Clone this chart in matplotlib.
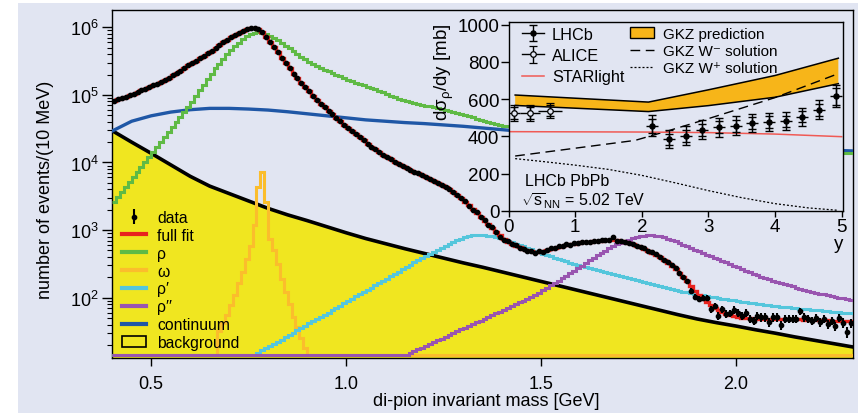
import numpy as np
import matplotlib
matplotlib.use("Agg")
import matplotlib.pyplot as plt
from matplotlib.patches import Rectangle, Patch
from matplotlib.lines import Line2D
from matplotlib.legend_handler import HandlerTuple
from matplotlib.ticker import LogLocator, NullFormatter, FixedLocator

plt.rcParams["font.family"] = ["Liberation Sans", "DejaVu Sans"]
plt.rcParams["mathtext.fontset"] = "custom"
plt.rcParams["mathtext.rm"] = "Liberation Sans"
plt.rcParams["mathtext.it"] = "Liberation Sans:italic"
plt.rcParams["mathtext.default"] = "regular"

# ---------------------------------------------------------------- main panel data
# 10 MeV bins from 0.40 to 2.30 GeV; all event counts are stored as log10(events per bin)
mass_lo, mass_hi, n_bins = 0.40, 2.30, 190

data_lg = [
    4.915, 4.935, 4.955, 4.975, 4.995, 5.015, 5.04, 5.065, 5.09, 5.115,
    5.14, 5.165, 5.19, 5.22, 5.255, 5.29, 5.325, 5.36, 5.395, 5.435,
    5.47, 5.505, 5.54, 5.575, 5.615, 5.655, 5.695, 5.735, 5.775, 5.815,
    5.85, 5.885, 5.915, 5.945, 5.97, 5.985, 5.99, 5.975, 5.935, 5.86,
    5.785, 5.71, 5.63, 5.55, 5.47, 5.39, 5.315, 5.245, 5.175, 5.11,
    5.05, 4.99, 4.93, 4.87, 4.815, 4.76, 4.71, 4.66, 4.61, 4.56,
    4.51, 4.465, 4.42, 4.37, 4.325, 4.28, 4.235, 4.195, 4.155, 4.115,
    4.08, 4.045, 4.01, 3.975, 3.945, 3.915, 3.89, 3.865, 3.84, 3.815,
    3.79, 3.76, 3.73, 3.70, 3.67, 3.64, 3.605, 3.565, 3.52, 3.47,
    3.43, 3.36, 3.30, 3.26, 3.19, 3.15, 3.08, 3.04, 2.97, 2.90,
    2.86, 2.84, 2.79, 2.78, 2.74, 2.72, 2.69, 2.69, 2.66, 2.69,
    2.68, 2.71, 2.73, 2.73, 2.76, 2.76, 2.79, 2.78, 2.81, 2.81,
    2.83, 2.82, 2.83, 2.84, 2.84, 2.85, 2.85, 2.86, 2.89, 2.84,
    2.84, 2.82, 2.81, 2.80, 2.77, 2.75, 2.73, 2.69, 2.67, 2.64,
    2.60, 2.56, 2.52, 2.48, 2.44, 2.37, 2.31, 2.24, 2.10, 2.01,
    1.98, 2.00, 1.99, 1.83, 1.88, 1.73, 1.83, 1.76, 1.77, 1.82,
    1.78, 1.73, 1.78, 1.69, 1.66, 1.73, 1.71, 1.71, 1.64, 1.71,
    1.71, 1.59, 1.69, 1.69, 1.69, 1.69, 1.80, 1.71, 1.685, 1.66,
    1.70, 1.64, 1.69, 1.61, 1.66, 1.58, 1.70, 1.63, 1.49, 1.62,
]

fit_lg = [
    4.915, 4.935, 4.955, 4.975, 4.995, 5.015, 5.04, 5.065, 5.09, 5.115,
    5.14, 5.165, 5.19, 5.22, 5.255, 5.29, 5.325, 5.36, 5.395, 5.435,
    5.47, 5.505, 5.54, 5.575, 5.615, 5.655, 5.695, 5.735, 5.775, 5.815,
    5.85, 5.885, 5.915, 5.945, 5.97, 5.985, 5.99, 5.975, 5.935, 5.86,
    5.785, 5.71, 5.63, 5.55, 5.47, 5.39, 5.315, 5.245, 5.175, 5.11,
    5.05, 4.99, 4.93, 4.87, 4.815, 4.76, 4.71, 4.66, 4.61, 4.56,
    4.51, 4.465, 4.42, 4.37, 4.325, 4.28, 4.235, 4.195, 4.155, 4.115,
    4.08, 4.045, 4.01, 3.975, 3.945, 3.915, 3.89, 3.865, 3.84, 3.815,
    3.79, 3.76, 3.73, 3.70, 3.67, 3.64, 3.605, 3.565, 3.52, 3.47,
    3.42, 3.365, 3.31, 3.25, 3.195, 3.14, 3.085, 3.03, 2.975, 2.92,
    2.87, 2.83, 2.795, 2.77, 2.745, 2.72, 2.70, 2.685, 2.675, 2.68,
    2.69, 2.705, 2.72, 2.735, 2.75, 2.765, 2.78, 2.79, 2.80, 2.81,
    2.82, 2.825, 2.83, 2.835, 2.84, 2.845, 2.85, 2.855, 2.855, 2.85,
    2.84, 2.825, 2.81, 2.79, 2.77, 2.745, 2.72, 2.69, 2.66, 2.63,
    2.595, 2.555, 2.515, 2.47, 2.42, 2.365, 2.305, 2.24, 2.17, 2.10,
    2.04, 1.985, 1.935, 1.89, 1.85, 1.815, 1.785, 1.76, 1.74, 1.725,
    1.715, 1.705, 1.70, 1.695, 1.69, 1.69, 1.685, 1.685, 1.685, 1.685,
    1.685, 1.685, 1.685, 1.685, 1.68, 1.68, 1.68, 1.675, 1.675, 1.67,
    1.67, 1.67, 1.665, 1.665, 1.66, 1.66, 1.66, 1.655, 1.655, 1.65,
]

rho_lg = [
    3.42, 3.495, 3.57, 3.64, 3.715, 3.79, 3.86, 3.935, 4.01, 4.085,
    4.16, 4.23, 4.305, 4.38, 4.45, 4.525, 4.60, 4.67, 4.745, 4.82,
    4.90, 4.985, 5.07, 5.15, 5.23, 5.31, 5.39, 5.46, 5.53, 5.60,
    5.665, 5.72, 5.77, 5.82, 5.865, 5.895, 5.915, 5.925, 5.92, 5.90,
    5.875, 5.845, 5.81, 5.77, 5.73, 5.69, 5.645, 5.60, 5.56, 5.525,
    5.49, 5.46, 5.43, 5.40, 5.375, 5.35, 5.325, 5.30, 5.275, 5.25,
    5.225, 5.20, 5.18, 5.16, 5.14, 5.12, 5.10, 5.08, 5.055, 5.035,
    5.01, 4.99, 4.965, 4.945, 4.93, 4.915, 4.90, 4.885, 4.87, 4.855,
    4.84, 4.83, 4.815, 4.80, 4.785, 4.77, 4.755, 4.74, 4.725, 4.71,
    4.695, 4.68, 4.665, 4.65, 4.635, 4.62, 4.605, 4.59, 4.575, 4.56,
    4.545, 4.535, 4.525, 4.515, 4.505, 4.495, 4.485, 4.475, 4.465, 4.455,
    4.445, 4.435, 4.425, 4.415, 4.41, 4.40, 4.39, 4.385, 4.375, 4.37,
    4.36, 4.355, 4.345, 4.34, 4.335, 4.325, 4.32, 4.315, 4.31, 4.30,
    4.295, 4.29, 4.285, 4.28, 4.275, 4.27, 4.265, 4.26, 4.255, 4.25,
    4.245, 4.24, 4.235, 4.23, 4.225, 4.22, 4.215, 4.21, 4.21, 4.205,
    4.20, 4.195, 4.19, 4.19, 4.185, 4.18, 4.18, 4.175, 4.17, 4.17,
    4.165, 4.165, 4.16, 4.16, 4.155, 4.155, 4.15, 4.15, 4.15, 4.145,
    4.145, 4.145, 4.14, 4.14, 4.14, 4.14, 4.14, 4.14, 4.14, 4.14,
    4.14, 4.14, 4.14, 4.14, 4.14, 4.14, 4.14, 4.14, 4.14, 4.14,
]

# omega: bins from 0.67 to 0.91 GeV
omega_first = 0.67
omega_lg = [
    1.51, 1.62, 1.75, 1.89, 2.04, 2.22, 2.38, 2.57, 2.77, 3.07,
    3.63, 3.86, 3.41, 2.87, 2.70, 2.50, 2.28, 2.08, 1.90, 1.72,
    1.56, 1.40, 1.26, 1.14,
]

# rho': bins from 0.76 GeV up to the end of the range
rho1_first = 0.76
rho1_lg = [
    1.15, 1.18, 1.22, 1.25,
    1.28, 1.32, 1.35, 1.38, 1.42, 1.45, 1.48, 1.52, 1.55, 1.58,
    1.62, 1.65, 1.68, 1.72, 1.75, 1.78, 1.82, 1.85, 1.88, 1.92,
    1.95, 1.98, 2.02, 2.05, 2.08, 2.12, 2.15, 2.18, 2.22, 2.25,
    2.28, 2.32, 2.35, 2.38, 2.42, 2.45, 2.48, 2.52, 2.55, 2.58,
    2.62, 2.65, 2.68, 2.71, 2.74, 2.77, 2.80, 2.83, 2.855, 2.875,
    2.895, 2.91, 2.92, 2.925, 2.925, 2.92, 2.915, 2.905, 2.895, 2.88,
    2.865, 2.845, 2.825, 2.80, 2.78, 2.76, 2.735, 2.715, 2.69, 2.67,
    2.65, 2.63, 2.61, 2.59, 2.57, 2.55, 2.535, 2.515, 2.50, 2.485,
    2.47, 2.455, 2.44, 2.425, 2.41, 2.395, 2.38, 2.365, 2.35, 2.335,
    2.32, 2.305, 2.29, 2.275, 2.26, 2.245, 2.23, 2.215, 2.20, 2.185,
    2.17, 2.156, 2.142, 2.128, 2.115, 2.102, 2.09, 2.078, 2.066, 2.055,
    2.044, 2.033, 2.023, 2.013, 2.003, 1.994, 1.985, 1.976, 1.967, 1.958,
    1.95, 1.942, 1.934, 1.926, 1.918, 1.91, 1.903, 1.896, 1.889, 1.882,
    1.875, 1.868, 1.862, 1.856, 1.85, 1.844, 1.838, 1.832, 1.826, 1.82,
    1.815, 1.81, 1.805, 1.80, 1.795, 1.79, 1.785, 1.78, 1.775, 1.77,
]

# rho'': bins from 1.14 GeV up to the end of the range
rho2_first = 1.14
rho2_lg = [
    1.13, 1.155, 1.18, 1.21, 1.235, 1.26,
    1.29, 1.315, 1.34, 1.37, 1.395, 1.42, 1.45, 1.475, 1.50, 1.53,
    1.555, 1.58, 1.61, 1.635, 1.66, 1.69, 1.715, 1.74, 1.77, 1.795,
    1.82, 1.85, 1.875, 1.90, 1.93, 1.955, 1.98, 2.01, 2.04, 2.075,
    2.11, 2.145, 2.18, 2.215, 2.25, 2.285, 2.325, 2.36, 2.40, 2.44,
    2.475, 2.515, 2.55, 2.59, 2.625, 2.66, 2.695, 2.73, 2.76, 2.79,
    2.815, 2.84, 2.86, 2.88, 2.895, 2.905, 2.915, 2.92, 2.92, 2.915,
    2.905, 2.89, 2.875, 2.855, 2.835, 2.81, 2.785, 2.76, 2.735, 2.71,
    2.685, 2.66, 2.635, 2.61, 2.59, 2.57, 2.545, 2.525, 2.50, 2.475,
    2.45, 2.425, 2.40, 2.375, 2.35, 2.33, 2.31, 2.29, 2.27, 2.25,
    2.23, 2.21, 2.195, 2.18, 2.165, 2.15, 2.13, 2.115, 2.10, 2.09,
    2.075, 2.06, 2.05, 2.035, 2.025, 2.01, 2.00, 1.99, 1.975, 1.965,
]

# smooth components sampled every 50 MeV from 0.40 to 2.30 GeV
continuum_lg = [
    4.465, 4.61, 4.69, 4.745, 4.78, 4.80, 4.80, 4.79, 4.775, 4.75,
    4.72, 4.69, 4.66, 4.63, 4.61, 4.59, 4.575, 4.555, 4.535, 4.51,
    4.485, 4.46, 4.44, 4.42, 4.40, 4.38, 4.36, 4.34, 4.325, 4.305,
    4.29, 4.27, 4.255, 4.24, 4.225, 4.21, 4.195, 4.18, 4.17,
]
background_lg = [
    4.47, 4.30, 4.135, 3.965, 3.795, 3.65, 3.54, 3.43, 3.32, 3.225,
    3.14, 3.05, 2.96, 2.875, 2.80, 2.725, 2.655, 2.585, 2.515, 2.45,
    2.38, 2.31, 2.24, 2.17, 2.10, 2.03, 1.96, 1.89, 1.82, 1.75,
    1.685, 1.63, 1.58, 1.525, 1.475, 1.42, 1.37, 1.32, 1.27,
]

legend_labels = ["data", "full fit", "ρ", "ω", "ρ′", "ρ′′", "continuum", "background"]

# ---------------------------------------------------------------- inset data
alice_y = [0.08, 0.32, 0.62]
alice_yerr_x = [0.1, 0.15, 0.18]
alice_xs = [525, 525, 538]
alice_tot = [42, 42, 40]
alice_stat = [30, 30, 28]

lhcb_y = [2.16, 2.41, 2.66, 2.91, 3.16, 3.41, 3.66, 3.91, 4.16, 4.41, 4.66, 4.91]
lhcb_xs = [457, 385, 403, 436, 448, 457, 472, 479, 481, 505, 543, 615]
lhcb_tot = [58, 48, 50, 50, 50, 50, 50, 48, 48, 48, 50, 60]
lhcb_stat = [38, 30, 32, 32, 32, 33, 33, 32, 30, 30, 32, 45]
lhcb_xerr = 0.09

gkz_y = [0.1, 2.1, 3.0, 4.0, 4.95]
gkz_hi = [622, 584, 650, 727, 820]
gkz_lo = [566, 533, 565, 610, 683]

wminus_y = [0.1, 1.0, 1.9, 2.4, 3.0, 4.0, 4.95]
wminus_xs = [294, 336, 378, 430, 495, 608, 737]

wplus_y = [0.1, 0.5, 1.0, 1.5, 2.0, 2.5, 3.0, 3.5, 4.0, 4.5, 4.95]
wplus_xs = [280, 265, 245, 222, 190, 150, 108, 70, 38, 15, 2]

starlight_y = [0.0, 1.0, 2.0, 3.0, 4.0, 5.0]
starlight_xs = [425, 424, 423, 420, 412, 398]

# ---------------------------------------------------------------- style
PANEL = "#e1e5f2"
YELLOW = "#f0e620"
C_RHO = "#5fba45"
C_OMEGA = "#fbbd2c"
C_RHO1 = "#55c6dc"
C_RHO2 = "#9955b0"
C_CONT = "#1f57a6"
C_FIT = "#e8231e"
C_BAND = "#f7b519"
C_STAR = "#f05a55"

W, H = 858, 414
fig = plt.figure(figsize=(W / 100, H / 100), dpi=100, facecolor="white")
fig.patches.append(Rectangle((18 / W, 0), 1 - 18 / W, 1 - 4 / H,
                             transform=fig.transFigure, facecolor=PANEL,
                             edgecolor="none", zorder=-10))

ax = fig.add_axes([112.2 / W, 1 - 359 / H, (853 - 112.2) / W, (359 - 11) / H])
ax.set_facecolor(PANEL)

edges = np.linspace(mass_lo, mass_hi, n_bins + 1)
centers = 0.5 * (edges[:-1] + edges[1:])
floor = 14.0


def full_range(first, values):
    """Place a partial histogram into the full bin range (empty bins -> 0)."""
    out = np.zeros(n_bins)
    i0 = int(round((first - mass_lo) / (edges[1] - edges[0])))
    out[i0:i0 + len(values)] = 10 ** np.asarray(values)
    return out


def shown(counts):
    # empty bins are drawn along the lower frame edge
    return np.maximum(counts, floor)


smooth_m = np.linspace(mass_lo, mass_hi, len(background_lg))
bg = 10 ** np.asarray(background_lg)
cont = 10 ** np.asarray(continuum_lg)

ax.fill_between(smooth_m, 1.0, bg, facecolor=YELLOW, edgecolor="none", zorder=1)
ax.plot(smooth_m, bg, color="black", lw=2.6, zorder=2)

omega = full_range(omega_first, omega_lg)
rho1 = full_range(rho1_first, rho1_lg)
rho2 = full_range(rho2_first, rho2_lg)
rho = 10 ** np.asarray(rho_lg)
fit = 10 ** np.asarray(fit_lg)
data = 10 ** np.asarray(data_lg)

lw_h = 2.2
ax.stairs(shown(omega), edges, color=C_OMEGA, lw=lw_h, baseline=None, zorder=3)
ax.stairs(shown(rho1), edges, color=C_RHO1, lw=lw_h, baseline=None, zorder=3)
ax.stairs(shown(rho2), edges, color=C_RHO2, lw=lw_h, baseline=None, zorder=3)
ax.plot(smooth_m, cont, color=C_CONT, lw=2.4, zorder=3)
ax.stairs(rho, edges, color=C_RHO, lw=lw_h, baseline=None, zorder=4)
ax.stairs(fit, edges, color=C_FIT, lw=2.4, baseline=None, zorder=5)
data_err = ax.errorbar(centers, data, yerr=np.sqrt(data), fmt="o", ms=3.1,
                       color="black", ecolor="black", elinewidth=1.5,
                       capsize=0, zorder=6)

ax.set_xlim(mass_lo, mass_hi)
ax.set_yscale("log")
ax.set_ylim(12.8, 1.8e6)
ax.yaxis.set_major_locator(LogLocator(base=10, numticks=10))
ax.yaxis.set_minor_locator(LogLocator(base=10, subs=np.arange(2, 10), numticks=20))
ax.yaxis.set_minor_formatter(NullFormatter())
ax.xaxis.set_major_locator(FixedLocator([0.5, 1.0, 1.5, 2.0]))
ax.set_xticklabels(["0.5", "1.0", "1.5", "2.0"])
ax.tick_params(axis="both", which="both", direction="out", top=False, right=False)
ax.tick_params(axis="y", which="major", length=7, width=1.0, labelsize=13, pad=3)
ax.tick_params(axis="y", which="minor", length=3.5, width=0.8)
ax.tick_params(axis="x", which="major", length=6, width=1.0, labelsize=13, pad=6)
for s in ax.spines.values():
    s.set_linewidth(1.0)

ax.set_ylabel("number of events/(10 MeV)", fontsize=13)
ax.yaxis.set_label_coords(-0.0786, 0.486)
ax.set_xlabel("di-pion invariant mass [GeV]", fontsize=13)
ax.xaxis.set_label_coords(0.505, -0.098)

handles = [
    data_err,
    Line2D([], [], color=C_FIT, lw=3),
    Line2D([], [], color=C_RHO, lw=3),
    Line2D([], [], color=C_OMEGA, lw=3),
    Line2D([], [], color=C_RHO1, lw=3),
    Line2D([], [], color=C_RHO2, lw=3),
    Line2D([], [], color=C_CONT, lw=3),
    Patch(facecolor=YELLOW, edgecolor="black", lw=1.2),
]
ax.legend(handles, legend_labels, loc="upper left", bbox_to_anchor=(0.0128, 0.425),
          frameon=False, fontsize=11.3, handlelength=1.55, handleheight=0.7,
          handletextpad=0.7, labelspacing=0.18, borderaxespad=0, borderpad=0)

# ---------------------------------------------------------------- inset
axi = fig.add_axes([508.5 / W, 1 - 211.7 / H, (843 - 508.5) / W, (211.7 - 23.3) / H], zorder=5)
axi.set_facecolor(PANEL)

axi.fill_between(gkz_y, gkz_lo, gkz_hi, facecolor=C_BAND, edgecolor="none", zorder=1)
axi.plot(gkz_y, gkz_hi, color="black", lw=1.1, zorder=2)
axi.plot(gkz_y, gkz_lo, color="black", lw=1.1, zorder=2)
axi.plot(wminus_y, wminus_xs, color="black", lw=1.0, ls=(0, (7, 4)), zorder=2)
axi.plot(wplus_y, wplus_xs, color="black", lw=0.9, ls=(0, (1.6, 1.6)), zorder=2)
star_line, = axi.plot(starlight_y, starlight_xs, color=C_STAR, lw=1.1, zorder=2)

# horizontal bin widths (no caps), then total and statistical vertical bars with caps
axi.errorbar(lhcb_y, lhcb_xs, xerr=lhcb_xerr, fmt="none", ecolor="black",
             elinewidth=1.0, capsize=0, zorder=4)
lhcb_err = axi.errorbar(lhcb_y, lhcb_xs, yerr=lhcb_tot, fmt="o", ms=3.6,
                        color="black", elinewidth=1.0, capsize=2.6, capthick=1.0, zorder=4)
axi.errorbar(lhcb_y, lhcb_xs, yerr=lhcb_stat, fmt="none", ecolor="black",
             elinewidth=1.0, capsize=2.6, capthick=1.0, zorder=4)
axi.errorbar(alice_y, alice_xs, xerr=alice_yerr_x, fmt="none", ecolor="black",
             elinewidth=1.0, capsize=0, zorder=4)
alice_err = axi.errorbar(alice_y, alice_xs, yerr=alice_tot, fmt="o",
                         ms=4.0, color="black", mfc=PANEL, mec="black", mew=0.9,
                         elinewidth=1.0, capsize=2.6, capthick=1.0, zorder=4)
axi.errorbar(alice_y, alice_xs, yerr=alice_stat, fmt="none", ecolor="black",
             elinewidth=1.0, capsize=2.6, capthick=1.0, zorder=4)

axi.set_xlim(0, 5.02)
axi.set_ylim(0, 1013)
axi.xaxis.set_major_locator(FixedLocator([0, 1, 2, 3, 4, 5]))
axi.yaxis.set_major_locator(FixedLocator([0, 200, 400, 600, 800, 1000]))
axi.tick_params(axis="both", which="both", direction="out", top=False, right=False)
axi.tick_params(axis="y", length=5.5, width=1.0, labelsize=13.5, pad=1)
axi.tick_params(axis="x", length=4, width=1.0, labelsize=13.5, pad=1)
for s in axi.spines.values():
    s.set_linewidth(1.0)
axi.set_ylabel("dσ$_{ρ}$/dy [mb]", fontsize=13.5, loc="top", labelpad=1)
axi.set_xlabel("y", fontsize=13.5, loc="right", labelpad=0)

hbar = Line2D([], [], color="black", lw=1.0)
leg1 = axi.legend([(hbar, lhcb_err), (hbar, alice_err), star_line],
                  ["LHCb", "ALICE", "STARlight"],
                  handler_map={tuple: HandlerTuple(ndivide=1, pad=0)},
                  loc="upper left", bbox_to_anchor=(0.04, 0.975), frameon=False,
                  fontsize=11.7, handlelength=1.35, handletextpad=0.5,
                  labelspacing=0.38, borderaxespad=0, borderpad=0)
axi.add_artist(leg1)
axi.legend([Patch(facecolor=C_BAND, edgecolor="black", lw=1.0),
            Line2D([], [], color="black", lw=1.0, ls=(0, (7, 4))),
            Line2D([], [], color="black", lw=0.9, ls=(0, (1.6, 1.6)))],
           ["GKZ prediction", "GKZ W⁻ solution", "GKZ W⁺ solution"],
           loc="upper left", bbox_to_anchor=(0.362, 0.975), frameon=False,
           fontsize=11.0, handlelength=1.6, handletextpad=0.6,
           labelspacing=0.2, borderaxespad=0, borderpad=0)

axi.text(0.05, 0.16, "LHCb PbPb", transform=axi.transAxes, fontsize=11.5,
         ha="left", va="center")
axi.text(0.036, 0.058, r"$\sqrt{s}_{NN}$ = 5.02 TeV", transform=axi.transAxes,
         fontsize=11.5, ha="left", va="center")

fig.savefig("out.png", dpi=100, facecolor="white")
